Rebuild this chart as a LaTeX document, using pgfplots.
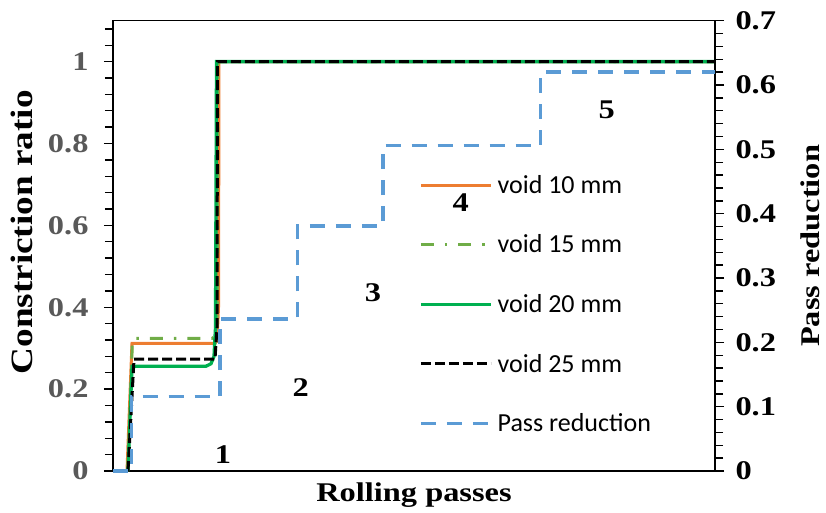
\documentclass[border=0pt]{standalone}
\usepackage{pgfplots}
\pgfplotsset{compat=1.18}
\usepackage{fontspec}
\setmainfont{Liberation Serif}[FakeStretch=1.2]
\newfontfamily\legendfont{Carlito}

\definecolor{vorange}{HTML}{ED7D31}
\definecolor{vgreenlt}{HTML}{70AD47}
\definecolor{vgreen}{HTML}{00B050}
\definecolor{pblue}{HTML}{5B9BD5}
\definecolor{labgray}{HTML}{595959}

\pgfplotsset{
  common/.style={
    scale only axis, width=602pt, height=450.3pt,
    xmin=0, xmax=602, xtick=\empty,
    axis line style={line width=1.6pt},
    every tick/.style={line width=1.4pt, black},
    tick align=outside,
    major tick length=9pt, minor tick length=8pt,
    /pgf/number format/assume math mode=true,
    /pgf/number format/fixed,
    clip=false,
  },
}
\tikzset{
  s10/.style={vorange, line width=3pt},
  s15/.style={vgreenlt, line width=3pt, dash pattern=on 13pt off 11pt on 2.5pt off 11pt},
  s20/.style={vgreen, line width=3.3pt},
  s25/.style={black, line width=3pt, dash pattern=on 10pt off 4pt},
  spr/.style={pblue, line width=3.4pt, dash pattern=on 15pt off 11pt},
  num/.style={font=\fontsize{27}{27}\selectfont\bfseries, inner sep=0pt},
}

\begin{document}
\begin{tikzpicture}
\useasboundingbox (-113pt,-41pt) rectangle (713pt,471pt);

% constriction ratio, left axis
\begin{axis}[common,
  ymin=0, ymax=1.1,
  ytick={0,0.2,0.4,0.6,0.8,1},
  minor ytick={0.04,0.08,0.12,0.16,0.24,0.28,0.32,0.36,0.44,0.48,0.52,0.56,0.64,0.68,0.72,0.76,0.84,0.88,0.92,0.96,1.04,1.08},
  ytick pos=left,
  yticklabel style={font=\fontsize{27}{27}\selectfont\bfseries, text=labgray, xshift=-12pt},
  ylabel={Constriction ratio},
  ylabel style={font=\fontsize{31}{31}\selectfont\bfseries, at={(axis description cs:-0.151,0.53)}, anchor=center},
  xlabel={Rolling passes},
  xlabel style={font=\fontsize{27}{27}\selectfont\bfseries, at={(axis description cs:0.5,0)}, anchor=base, yshift=-30pt},
]
\addplot[s10] coordinates {(14,0) (19,0.312) (102,0.312) (104,0.318) (105.5,0.4) (106,1) (602,1)};
\addplot[s15] coordinates {(15,0) (19.5,0.324) (99,0.324) (103,0.33) (104.5,0.4) (105,1) (602,1)};
\addplot[s20] coordinates {(15,0) (19,0.256) (93,0.256) (98,0.262) (101,0.28) (102.5,0.35) (103.5,1) (602,1)};
\addplot[s25] coordinates {(15,0) (21,0.273) (102,0.273) (104,0.35) (104.5,1) (602,1)};

\node[num] at (axis cs:110,0.039) {1};
\node[num] at (axis cs:187.7,0.203) {2};
\node[num] at (axis cs:260,0.435) {3};
\node[num] at (axis cs:347.7,0.656) {4};
\node[num] at (axis cs:493.7,0.883) {5};
\end{axis}

% pass reduction, right axis
\begin{axis}[common,
  axis x line=none, axis y line*=right,
  ymin=0, ymax=0.7,
  ytick={0,0.1,0.2,0.3,0.4,0.5,0.6,0.7},
  minor y tick num=4,
  yticklabel style={font=\fontsize{27}{27}\selectfont\bfseries, text=black, xshift=8pt},
  ylabel={Pass reduction},
  ylabel style={font=\fontsize{27}{27}\selectfont\bfseries, at={(axis description cs:1.158,0.5)}, anchor=center},
  legend style={draw=none, fill=none, at={(axis cs:306,0.46)}, anchor=north west,
    font=\legendfont\fontsize{26}{26}\selectfont, row sep=40pt, inner sep=0pt,
    nodes={inner sep=0pt},
    /tikz/every odd column/.append style={column sep=5pt}},
  legend cell align=left,
  legend image code/.code={\draw[#1] (0pt,0pt) -- (70pt,0pt);},
]
\addlegendimage{s10}
\addlegendentry{void 10 mm}
\addlegendimage{s15}
\addlegendentry{void 15 mm}
\addlegendimage{s20}
\addlegendentry{void 20 mm}
\addlegendimage{s25}
\addlegendentry{void 25 mm}
\addplot[spr] coordinates {(0,0) (18.7,0) (18.7,0.1155) (107,0.1155) (107,0.236) (184.3,0.236) (184.3,0.381) (270,0.381) (270,0.506) (427.7,0.506) (427.7,0.620) (602,0.620)};
\addlegendentry{Pass reduction}
\end{axis}
\end{tikzpicture}
\end{document}
